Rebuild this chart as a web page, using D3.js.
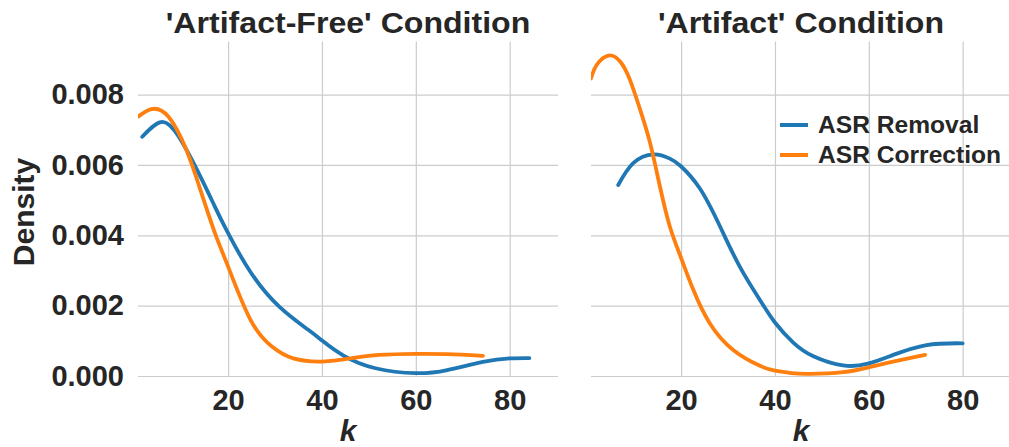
<!DOCTYPE html>
<html>
<head>
<meta charset="utf-8">
<script src="https://cdn.jsdelivr.net/npm/d3@7"></script>
<style>
  body { margin: 0; background: #fff; }
  text { font-family: "Liberation Sans", Arial, sans-serif; font-weight: bold; fill: #262626; }
</style>
</head>
<body>
<script>
// values
var kTicks = [20, 40, 60, 80];
var densityTicks = [0, 0.002, 0.004, 0.006, 0.008];
var panelTitles = ["'Artifact-Free' Condition", "'Artifact' Condition"];
var seriesNames = ["ASR Removal", "ASR Correction"];
var seriesColors = ["#1f77b4", "#ff7f0e"];

// 'Artifact-Free' panel
var freeRemovalK = [1.7, 5.7, 9.5, 14.1, 17.2, 20, 24.8, 30.9, 37, 40.1, 44.6, 51.4, 60, 66.7, 74.3, 80, 84.2];
var freeRemovalD = [0.00680, 0.00722, 0.00680, 0.00567, 0.00481, 0.00406, 0.00295, 0.00197, 0.00132, 0.00100, 0.00058, 0.00022, 0.00008, 0.00017, 0.00040, 0.00050, 0.00051];
var freeCorrK = [0.8, 3.7, 7.3, 11.1, 14.1, 17.2, 20, 24.8, 29.4, 33.9, 40.1, 46.1, 52.2, 60, 66.7, 74.3];
var freeCorrD = [0.00737, 0.00759, 0.00737, 0.00643, 0.00529, 0.00406, 0.00311, 0.00159, 0.00083, 0.00050, 0.00041, 0.00050, 0.00060, 0.00063, 0.00062, 0.00057];

// 'Artifact' panel
var artRemovalK = [6.6, 9.8, 14.1, 17.6, 19.9, 24, 28.3, 32.5, 36.8, 40, 43.9, 48.2, 54.5, 59.8, 65.2, 72.3, 80];
var artRemovalD = [0.00543, 0.00605, 0.00630, 0.00618, 0.00597, 0.00533, 0.00425, 0.00311, 0.00216, 0.00152, 0.00095, 0.00056, 0.00030, 0.00035, 0.00060, 0.00088, 0.00093];
var artCorrK = [0.8, 2.0, 4.5, 7.0, 9.1, 11.3, 13.4, 15.5, 17.6, 19.9, 22.6, 26.1, 31.1, 36.8, 40, 43.5, 47.4, 54.5, 59.8, 65.2, 72];
var artCorrD = [0.00846, 0.00884, 0.00911, 0.00894, 0.00842, 0.00756, 0.00662, 0.00538, 0.00425, 0.00339, 0.00245, 0.00150, 0.00074, 0.00029, 0.00015, 0.00008, 0.00006, 0.00011, 0.00024, 0.00041, 0.00060];

var width = 1009, height = 447;
var plotTop = 41.5, plotBottom = 376;
var panelRanges = [[138, 558], [591, 1011]];
var panelData = [
  [[freeRemovalK, freeRemovalD], [freeCorrK, freeCorrD]],
  [[artRemovalK, artRemovalD], [artCorrK, artCorrD]]
];

var svg = d3.select("body").append("svg")
  .attr("width", width)
  .attr("height", height);

svg.append("rect").attr("width", width).attr("height", height).attr("fill", "#fff");

var y = d3.scaleLinear().domain([0, 0.00951]).range([plotBottom, plotTop]);

var zip = function(ks, ds) {
  return ks.map(function(k, i) { return {k: k, d: ds[i]}; });
};

panelRanges.forEach(function(r, p) {
  var x = d3.scaleLinear().domain([0.8, 90.3]).range(r);
  var g = svg.append("g");

  // grid lines (horizontal) + y tick labels
  var yAxis = g.append("g")
    .attr("transform", "translate(" + r[0] + ",0)")
    .call(d3.axisLeft(y)
      .tickValues(densityTicks)
      .tickSize(-(r[1] - r[0]))
      .tickPadding(14)
      .tickFormat(p == 0 ? d3.format(".3f") : function() { return ""; }));
  yAxis.select(".domain").remove();

  // grid lines (vertical) + x tick labels
  var xAxis = g.append("g")
    .attr("transform", "translate(0," + plotBottom + ")")
    .call(d3.axisBottom(x)
      .tickValues(kTicks)
      .tickSize(-(plotBottom - plotTop))
      .tickPadding(13.5)
      .tickFormat(d3.format("d")));
  xAxis.select(".domain").remove();

  g.selectAll(".tick line").attr("stroke", "#cccccc").attr("stroke-width", 1.2);
  g.selectAll(".tick text")
    .style("font-family", "'Liberation Sans', Arial, sans-serif")
    .style("font-weight", "bold")
    .style("font-size", "29px")
    .attr("fill", "#262626");

  // clip to the axes box
  var clipId = "clip" + p;
  svg.append("clipPath").attr("id", clipId)
    .append("rect")
    .attr("x", r[0]).attr("y", plotTop)
    .attr("width", r[1] - r[0]).attr("height", plotBottom - plotTop + 4);

  var line = d3.line()
    .x(function(d) { return x(d.k); })
    .y(function(d) { return y(d.d); })
    .curve(d3.curveNatural);

  panelData[p].forEach(function(s, i) {
    g.append("path")
      .attr("clip-path", "url(#" + clipId + ")")
      .attr("d", line(zip(s[0], s[1])))
      .attr("fill", "none")
      .attr("stroke", seriesColors[i])
      .attr("stroke-width", 3.8)
      .attr("stroke-linecap", "round");
  });

  // title
  svg.append("text")
    .attr("transform", "translate(" + ((r[0] + r[1]) / 2) + ",33) scale(1.07,1)")
    .attr("text-anchor", "middle")
    .style("font-size", "30px")
    .text(panelTitles[p]);

  // x label
  svg.append("text")
    .attr("transform", "translate(" + ((r[0] + r[1]) / 2) + ",441)")
    .attr("text-anchor", "middle")
    .style("font-size", "30px")
    .style("font-style", "italic")
    .text("k");
});

// y label
svg.append("text")
  .attr("transform", "translate(34,212) rotate(-90)")
  .attr("text-anchor", "middle")
  .style("font-size", "30px")
  .text("Density");

// legend
var legend = svg.append("g").attr("transform", "translate(780,125)");
seriesNames.forEach(function(name, i) {
  legend.append("line")
    .attr("x1", 0).attr("x2", 28)
    .attr("y1", i * 30).attr("y2", i * 30)
    .attr("stroke", seriesColors[i])
    .attr("stroke-width", 4);
  legend.append("text")
    .attr("transform", "translate(38," + (i * 30 + 7.5) + ") scale(1.07,1)")
    .style("font-size", "23px")
    .text(name);
});
</script>
</body>
</html>
